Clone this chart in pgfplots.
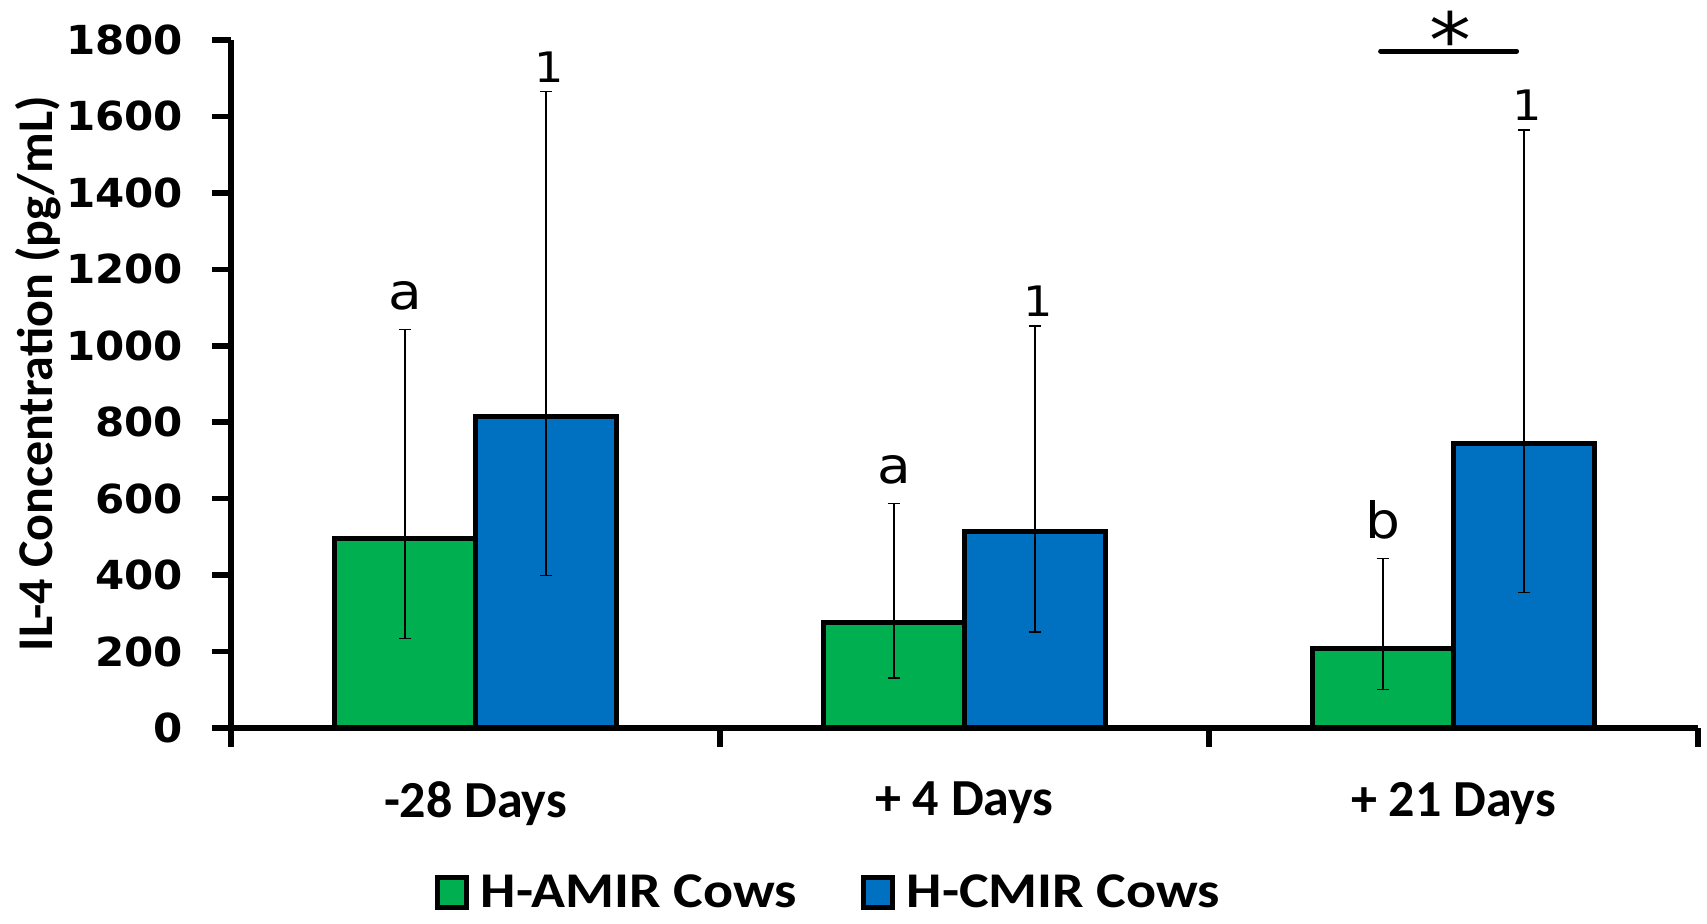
\documentclass[border=0pt]{standalone}
\usepackage{fontspec}
\usepackage{pgfplots}
\usepackage{pgfplotstable}
\pgfplotsset{compat=1.18}
\setmainfont{Carlito}
\newfontfamily\calw[FakeStretch=1.12]{Carlito}
\newfontfamily\dvs[FakeStretch=1.05]{DejaVu Sans}
\newfontfamily\dvn[FakeStretch=1.1]{DejaVu Sans}
\definecolor{hgreen}{HTML}{00B050}
\definecolor{hblue}{HTML}{0070C0}

\pgfplotstableread{
x y ep em
0 496 546 262
1 277 311 146
2 208 236 108
}\amir
\pgfplotstableread{
x y ep em
0 816 850 417
1 513 539 262
2 744 821 390
}\cmir

\begin{document}
\begin{tikzpicture}
\useasboundingbox (-115.5pt,-98pt) rectangle (738pt,364pt);
\begin{axis}[
  at={(0,0)}, anchor=south west,
  scale only axis, width=733.5pt, height=344pt,
  clip=false,
  ybar=0pt, bar width=70.5pt,
  xmin=-0.5, xmax=2.5, ymin=0, ymax=1800,
  axis x line*=bottom, axis y line*=left,
  axis line style={line width=2.75pt, black, -},
  xtick={0,1,2},
  xticklabels={-28 Days, + 4 Days, + 21 Days},
  minor xtick={-0.5,0.5,1.5,2.5},
  every major x tick/.append style={draw=none},
  ytick={0,200,...,1800},
  tick align=outside,
  major tick length=9.5pt, minor tick length=9.5pt,
  every tick/.append style={line width=2.75pt, black},
  /pgf/number format/assume math mode=true,
  /pgf/number format/1000 sep={},
  yticklabel style={font=\dvs\bfseries\fontsize{20}{20}\selectfont, xshift=-11pt},
  xticklabel style={font=\bfseries\fontsize{26}{26}\selectfont, yshift=-14pt},
  ylabel={IL-4 Concentration (pg/mL)},
  ylabel style={font=\bfseries\fontsize{25}{25}\selectfont, at={(axis description cs:-0.1316,0.515)}, anchor=center},
  legend style={at={(axis description cs:0.408,-0.239)}, anchor=center, draw=none, fill=none,
    inner ysep=0pt,
    nodes={inner ysep=0.5pt},
    legend columns=2, font=\calw\bfseries\fontsize{25}{25}\selectfont,
    /tikz/every odd column/.append style={column sep=4pt},
    /tikz/every even column/.append style={column sep=30pt}},
  legend image code/.code={\draw[#1, line width=2.5pt] (0pt,-7.5pt) rectangle (14.5pt,7.5pt);},
]
\addplot[fill=hgreen, draw=black, line width=2.5pt,
  error bars/.cd, y dir=both, y explicit,
  error bar style={line width=0.6pt, black},
  error mark options={rotate=90, line width=0.7pt, mark size=3.2pt, black}]
  table[x=x, y=y, y error plus=ep, y error minus=em] {\amir};
\addplot[fill=hblue, draw=black, line width=2.5pt,
  error bars/.cd, y dir=both, y explicit,
  error bar style={line width=0.6pt, black},
  error mark options={rotate=90, line width=0.7pt, mark size=3.2pt, black}]
  table[x=x, y=y, y error plus=ep, y error minus=em] {\cmir};
\legend{H-AMIR Cows, H-CMIR Cows}
\node[anchor=base, xshift=-35.25pt, yshift=10pt, font=\dvn\fontsize{25}{25}\selectfont] at (axis cs:0,1042) {a};
\node[anchor=base, xshift=37pt, yshift=4.5pt, font=\dvn\fontsize{21}{21}\selectfont] at (axis cs:0,1666) {1};
\node[anchor=base, xshift=-35.25pt, yshift=10pt, font=\dvn\fontsize{25}{25}\selectfont] at (axis cs:1,588) {a};
\node[anchor=base, xshift=37pt, yshift=4.5pt, font=\dvn\fontsize{21}{21}\selectfont] at (axis cs:1,1052) {1};
\node[anchor=base, xshift=-35.25pt, yshift=10pt, font=\dvn\fontsize{25}{25}\selectfont] at (axis cs:2,444) {b};
\node[anchor=base, xshift=37pt, yshift=4.5pt, font=\dvn\fontsize{21}{21}\selectfont] at (axis cs:2,1565) {1};
\draw[line width=2.5pt, line cap=round] (axis cs:1.851,1771) -- (axis cs:2.129,1771);
\node[anchor=base, yshift=-8pt, inner sep=0pt, font=\dvn\fontsize{38}{38}\selectfont] at (axis cs:1.994,1771) {*};
\end{axis}
\end{tikzpicture}
\end{document}
